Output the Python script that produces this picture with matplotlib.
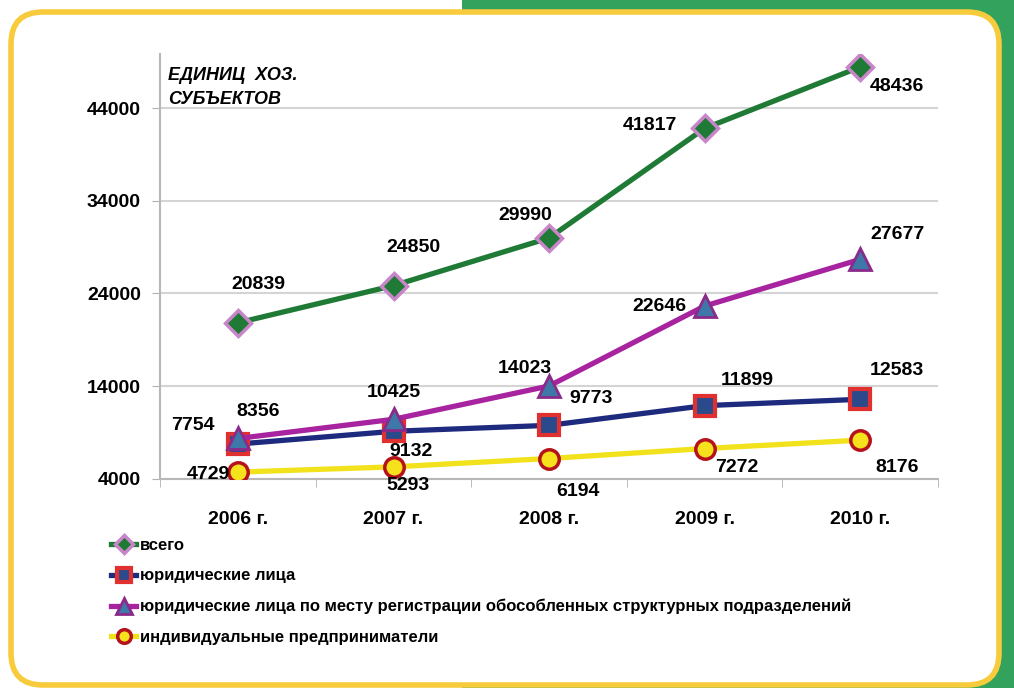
import matplotlib.pyplot as plt
import matplotlib.patches as mpatches
from matplotlib.transforms import IdentityTransform

plt.rcParams['font.family'] = ['Liberation Sans', 'DejaVu Sans']

godi = ['2006 г.', '2007 г.', '2008 г.', '2009 г.', '2010 г.']
vsego = [20839, 24850, 29990, 41817, 48436]
yur_lica = [7754, 9132, 9773, 11899, 12583]
yur_podrazd = [8356, 10425, 14023, 22646, 27677]
ip = [4729, 5293, 6194, 7272, 8176]
y_ticks = [4000, 14000, 24000, 34000, 44000]

nazvaniya = ['всего', 'юридические лица',
             'юридические лица по месту регистрации обособленных структурных подразделений',
             'индивидуальные предприниматели']

fig = plt.figure(figsize=(10.14, 6.88), dpi=100)

# фон: зеленая полоса и белая карточка с желтой рамкой
fon = mpatches.Rectangle((462, 0), 560, 700, transform=IdentityTransform(),
                         facecolor='#33a25c', edgecolor='none', zorder=-10)
fig.patches.append(fon)
kartochka = mpatches.FancyBboxPatch((11, 3), 988, 673, transform=IdentityTransform(),
                                    boxstyle='round,pad=0,rounding_size=32',
                                    facecolor='white', edgecolor='#f7cb3c', linewidth=4, zorder=-5)
fig.patches.append(kartochka)

ax = fig.add_axes([0.158, 0.304, 0.767, 0.617])
ax.set_facecolor('none')
x = list(range(len(godi)))

l1, = ax.plot(x, vsego, color='#1f7a35', lw=3.8, marker='D', ms=13,
              mfc='#1f7a35', mec='#c985c9', mew=2.5, zorder=5)
l2, = ax.plot(x, yur_lica, color='#1e2a7e', lw=3.8, marker='s', ms=14,
              mfc='#2b4a8c', mec='#e03030', mew=3, zorder=4)
l3, = ax.plot(x, yur_podrazd, color='#a8239f', lw=3.8, marker='^', ms=16,
              mfc='#3d78a8', mec='#8a2a8a', mew=2, zorder=6)
l4, = ax.plot(x, ip, color='#f2e21c', lw=3.8, marker='o', ms=14,
              mfc='#f5e21c', mec='#b5121b', mew=2.5, zorder=4)

# подписи значений (смещения в пикселях)
sm_vsego = [(20, 38), (20, 38), (-24, 22), (-55, 3), (37, -20)]
sm_podr = [(20, 27), (0, 27), (-24, 17), (-45, 0), (37, 25)]
sm_yur = [(-45, 19), (17, -20), (42, 27), (43, 25), (37, 29)]
sm_ip = [(-30, -2), (14, -19), (29, -33), (32, -19), (37, -27)]
for znach, smesh in [(vsego, sm_vsego), (yur_podrazd, sm_podr), (yur_lica, sm_yur), (ip, sm_ip)]:
    for i, v in enumerate(znach):
        ax.annotate(str(v), (x[i], v), xytext=smesh[i], textcoords='offset pixels',
                    ha='center', va='center', fontsize=14, fontweight='bold', zorder=10)

ax.set_xlim(-0.5, 4.5)
ax.set_ylim(4000, 49800)
ax.set_yticks(y_ticks)
ax.set_yticklabels([str(t) for t in y_ticks], fontsize=14, fontweight='bold')
ax.set_xticks(x)
ax.set_xticklabels(godi, fontsize=14, fontweight='bold')
ax.set_xticks([-0.5, 0.5, 1.5, 2.5, 3.5, 4.5], minor=True)
ax.tick_params(axis='x', which='major', length=0, pad=23)
ax.tick_params(axis='x', which='minor', length=6, color='#b0b0b0')
ax.tick_params(axis='y', length=6, color='#b0b0b0', pad=8)
ax.grid(axis='y', color='#d4d4d4', lw=1.5)
for s in ['top', 'right']:
    ax.spines[s].set_visible(False)
for s in ['left', 'bottom']:
    ax.spines[s].set_color('#b8b8b8')
    ax.spines[s].set_linewidth(1.5)

ax.text(0.01, 0.97, 'ЕДИНИЦ  ХОЗ.\nСУБЪЕКТОВ', transform=ax.transAxes, ha='left', va='top',
        fontsize=13, fontweight='bold', style='italic', linespacing=1.5)

fig.legend([l1, l2, l3, l4], nazvaniya, loc='upper left', bbox_to_anchor=(0.095, 0.24),
           frameon=False, prop={'size': 12, 'weight': 'bold'}, handlelength=1.5,
           handletextpad=0.2, labelspacing=0.93, markerscale=0.7)

fig.savefig('out.png', dpi=100)
